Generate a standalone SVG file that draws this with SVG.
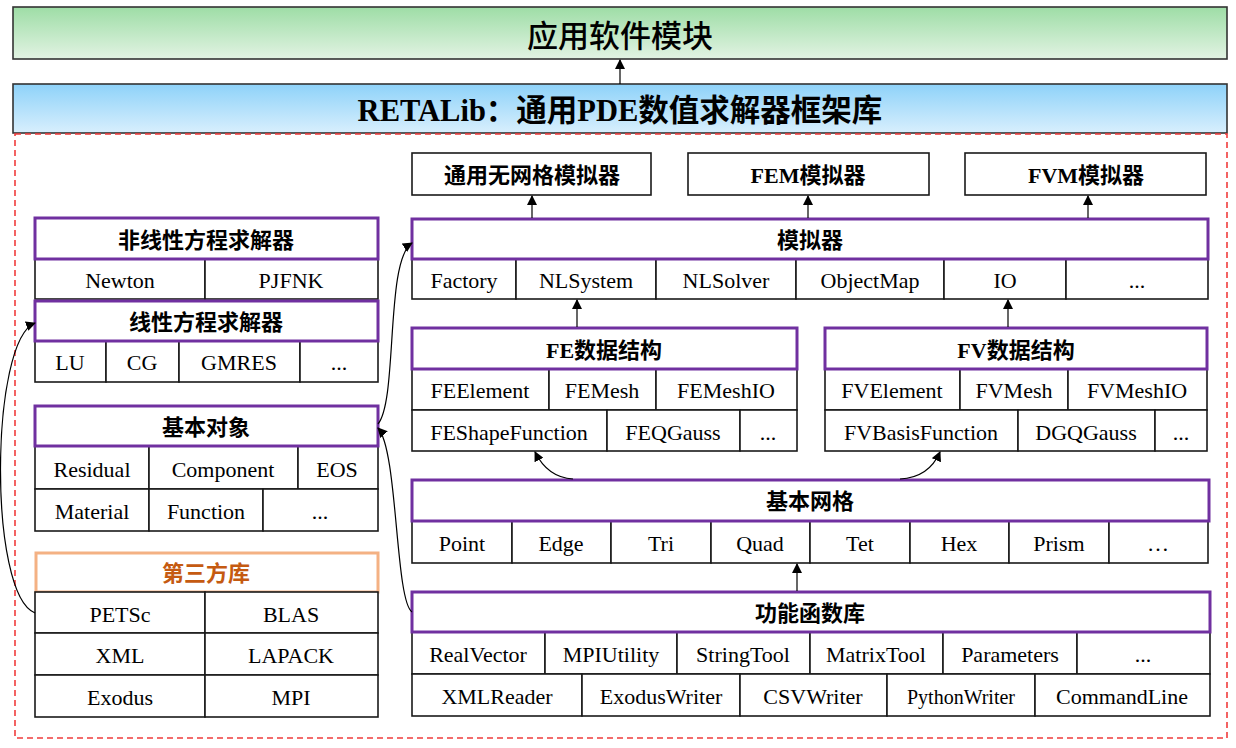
<svg xmlns="http://www.w3.org/2000/svg" width="1236" height="748" viewBox="0 0 1236 748">
<defs>
<linearGradient id="gGreen" x1="0" y1="0" x2="0" y2="1"><stop offset="0" stop-color="#9edda6"/><stop offset="1" stop-color="#e2f3e3"/></linearGradient>
<linearGradient id="gBlue" x1="0" y1="0" x2="0" y2="1"><stop offset="0" stop-color="#8ed2f9"/><stop offset="1" stop-color="#d8effd"/></linearGradient>
<marker id="ah" markerWidth="10" markerHeight="10" refX="9" refY="5" orient="auto" markerUnits="userSpaceOnUse"><path d="M0,0 L10,5 L0,10 z" fill="#000"/></marker>
<style>
.c{fill:#fff;stroke:#1a1a1a;stroke-width:1.6}
.h{fill:#fff;stroke:#7030a0;stroke-width:3}
.b{fill:#fff;stroke:#1a1a1a;stroke-width:1.6}
.t{font-family:"Liberation Serif","Times New Roman",serif;font-size:22px;fill:#000;text-anchor:middle}
.ts{font-size:20px}
.z{font-family:"Liberation Serif","Noto Sans CJK SC",serif;font-size:22px;font-weight:bold;fill:#000;text-anchor:middle}
.cn{stroke:#000;stroke-width:1.2;fill:none}
</style>
</defs>
<rect x="0" y="0" width="1236" height="748" fill="#fff"/>

<g id="app">
<rect x="13" y="7" width="1214" height="52" fill="url(#gGreen)" stroke="#333" stroke-width="1.6"/>
<text x="620" y="47" style="font-family:'Noto Sans CJK SC',sans-serif;font-size:31px;font-weight:500;text-anchor:middle;fill:#000">应用软件模块</text>
</g>
<g id="retalib">
<rect x="13" y="84" width="1214" height="49" fill="url(#gBlue)" stroke="#333" stroke-width="1.6"/>
<text x="620" y="121" style="font-family:'Liberation Serif','Noto Sans CJK SC',serif;font-size:30.5px;font-weight:bold;text-anchor:middle;fill:#000">RETALib：通用PDE数值求解器框架库</text>
</g>
<rect id="frame" x="15" y="134" width="1212" height="604" fill="none" stroke="#f03c3c" stroke-width="1.6" stroke-dasharray="6,4"/>

<g id="nonlinear">
<rect class="c" x="35" y="259" width="170" height="40"/><text class="t" x="120" y="288">Newton</text>
<rect class="c" x="205" y="259" width="173" height="40"/><text class="t" x="291" y="288">PJFNK</text>
<rect class="h" x="35" y="218" width="343" height="41"/><text class="z" x="206" y="248">非线性方程求解器</text>
</g>
<g id="linear">
<rect class="c" x="35" y="341" width="71" height="41"/><text class="t" x="70" y="370">LU</text>
<rect class="c" x="106" y="341" width="73" height="41"/><text class="t" x="142" y="370">CG</text>
<rect class="c" x="179" y="341" width="121" height="41"/><text class="t" x="239" y="370">GMRES</text>
<rect class="c" x="300" y="341" width="78" height="41"/><text class="t" x="339" y="370">...</text>
<rect class="h" x="35" y="301" width="343" height="40"/><text class="z" x="206" y="330">线性方程求解器</text>
</g>
<g id="basicobj">
<rect class="c" x="35" y="446" width="114" height="43"/><text class="t" x="92" y="477">Residual</text>
<rect class="c" x="149" y="446" width="149" height="43"/><text class="t" x="223" y="477">Component</text>
<rect class="c" x="298" y="446" width="80" height="43"/><text class="t" x="337" y="477">EOS</text>
<rect class="c" x="35" y="489" width="114" height="42"/><text class="t" x="92" y="519">Material</text>
<rect class="c" x="149" y="489" width="114" height="42"/><text class="t" x="206" y="519">Function</text>
<rect class="c" x="263" y="489" width="115" height="42"/><text class="t" x="320" y="519">...</text>
<rect class="h" x="35" y="406" width="343" height="40"/><text class="z" x="206" y="435">基本对象</text>
</g>
<g id="thirdparty">
<rect x="36" y="553" width="342" height="39" fill="#fff" stroke="#f4b183" stroke-width="3"/><text class="z" x="206" y="581" style="fill:#c55a11">第三方库</text>
<rect class="c" x="35" y="592" width="170" height="41"/><text class="t" x="120" y="622">PETSc</text>
<rect class="c" x="205" y="592" width="173" height="41"/><text class="t" x="291" y="622">BLAS</text>
<rect class="c" x="35" y="633" width="170" height="42"/><text class="t" x="120" y="663">XML</text>
<rect class="c" x="205" y="633" width="173" height="42"/><text class="t" x="291" y="663">LAPACK</text>
<rect class="c" x="35" y="675" width="170" height="42"/><text class="t" x="120" y="705">Exodus</text>
<rect class="c" x="205" y="675" width="173" height="42"/><text class="t" x="291" y="705">MPI</text>
</g>

<g id="meshless"><rect class="b" x="412" y="153" width="239" height="42"/><text class="z" x="532" y="183">通用无网格模拟器</text></g>
<g id="femsim"><rect class="b" x="688" y="153" width="241" height="42"/><text class="z" x="808" y="183">FEM模拟器</text></g>
<g id="fvmsim"><rect class="b" x="965" y="153" width="241" height="42"/><text class="z" x="1086" y="183">FVM模拟器</text></g>

<g id="simulator">
<rect class="c" x="412" y="259" width="104" height="40"/><text class="t" x="464" y="288">Factory</text>
<rect class="c" x="516" y="259" width="140" height="40"/><text class="t" x="586" y="288">NLSystem</text>
<rect class="c" x="656" y="259" width="140" height="40"/><text class="t" x="726" y="288">NLSolver</text>
<rect class="c" x="796" y="259" width="148" height="40"/><text class="t" x="870" y="288">ObjectMap</text>
<rect class="c" x="944" y="259" width="122" height="40"/><text class="t" x="1005" y="288">IO</text>
<rect class="c" x="1066" y="259" width="142" height="40"/><text class="t" x="1137" y="288">...</text>
<rect class="h" x="412" y="219" width="796" height="40"/><text class="z" x="810" y="248">模拟器</text>
</g>

<g id="fedata">
<rect class="c" x="412" y="369" width="137" height="41"/><text class="t" x="480" y="398">FEElement</text>
<rect class="c" x="549" y="369" width="107" height="41"/><text class="t" x="602" y="398">FEMesh</text>
<rect class="c" x="656" y="369" width="141" height="41"/><text class="t" x="726" y="398">FEMeshIO</text>
<rect class="c" x="412" y="410" width="195" height="41"/><text class="t" x="509" y="440">FEShapeFunction</text>
<rect class="c" x="607" y="410" width="133" height="41"/><text class="t" x="673" y="440">FEQGauss</text>
<rect class="c" x="740" y="410" width="57" height="41"/><text class="t" x="768" y="440">...</text>
<rect class="h" x="412" y="328" width="385" height="41"/><text class="z" x="604" y="358">FE数据结构</text>
</g>
<g id="fvdata">
<rect class="c" x="825" y="369" width="135" height="41"/><text class="t" x="892" y="398">FVElement</text>
<rect class="c" x="960" y="369" width="108" height="41"/><text class="t" x="1014" y="398">FVMesh</text>
<rect class="c" x="1068" y="369" width="139" height="41"/><text class="t" x="1137" y="398">FVMeshIO</text>
<rect class="c" x="825" y="410" width="193" height="41"/><text class="t" x="921" y="440">FVBasisFunction</text>
<rect class="c" x="1018" y="410" width="137" height="41"/><text class="t" x="1086" y="440">DGQGauss</text>
<rect class="c" x="1155" y="410" width="52" height="41"/><text class="t" x="1181" y="440">...</text>
<rect class="h" x="825" y="328" width="382" height="41"/><text class="z" x="1016" y="358">FV数据结构</text>
</g>

<g id="basicmesh">
<rect class="c" x="412" y="521" width="100" height="42"/><text class="t" x="462" y="551">Point</text>
<rect class="c" x="512" y="521" width="99" height="42"/><text class="t" x="561" y="551">Edge</text>
<rect class="c" x="611" y="521" width="100" height="42"/><text class="t" x="661" y="551">Tri</text>
<rect class="c" x="711" y="521" width="99" height="42"/><text class="t" x="760" y="551">Quad</text>
<rect class="c" x="810" y="521" width="100" height="42"/><text class="t" x="860" y="551">Tet</text>
<rect class="c" x="910" y="521" width="99" height="42"/><text class="t" x="959" y="551">Hex</text>
<rect class="c" x="1009" y="521" width="100" height="42"/><text class="t" x="1059" y="551">Prism</text>
<rect class="c" x="1109" y="521" width="99" height="42"/><text class="t" x="1158" y="551">…</text>
<rect class="h" x="412" y="480" width="797" height="41"/><text class="z" x="810" y="509">基本网格</text>
</g>

<g id="utility">
<rect class="c" x="412" y="632" width="133" height="42"/><text class="t" x="478" y="662">RealVector</text>
<rect class="c" x="545" y="632" width="132" height="42"/><text class="t" x="611" y="662">MPIUtility</text>
<rect class="c" x="677" y="632" width="133" height="42"/><text class="t" x="743" y="662">StringTool</text>
<rect class="c" x="810" y="632" width="133" height="42"/><text class="t" x="876" y="662">MatrixTool</text>
<rect class="c" x="943" y="632" width="134" height="42"/><text class="t" x="1010" y="662">Parameters</text>
<rect class="c" x="1077" y="632" width="133" height="42"/><text class="t" x="1143" y="662">...</text>
<rect class="c" x="412" y="674" width="170" height="42"/><text class="t" x="497" y="704">XMLReader</text>
<rect class="c" x="582" y="674" width="158" height="42"/><text class="t" x="661" y="704">ExodusWriter</text>
<rect class="c" x="740" y="674" width="147" height="42"/><text class="t" x="813" y="704">CSVWriter</text>
<rect class="c" x="887" y="674" width="148" height="42"/><text class="t ts" x="961" y="704">PythonWriter</text>
<rect class="c" x="1035" y="674" width="175" height="42"/><text class="t" x="1122" y="704">CommandLine</text>
<rect class="h" x="412" y="592" width="798" height="40"/><text class="z" x="810" y="621">功能函数库</text>
</g>

<g id="connectors">
<line class="cn" x1="620" y1="84" x2="620" y2="60" marker-end="url(#ah)"/>
<line class="cn" x1="532" y1="218" x2="532" y2="196" marker-end="url(#ah)"/>
<line class="cn" x1="808" y1="218" x2="808" y2="196" marker-end="url(#ah)"/>
<line class="cn" x1="1088" y1="218" x2="1088" y2="196" marker-end="url(#ah)"/>
<line class="cn" x1="577" y1="327" x2="577" y2="300" marker-end="url(#ah)"/>
<line class="cn" x1="1008" y1="327" x2="1008" y2="300" marker-end="url(#ah)"/>
<line class="cn" x1="797" y1="591" x2="797" y2="564" marker-end="url(#ah)"/>
<path class="cn" d="M573,479 C555,478 543,468 535,452" marker-end="url(#ah)"/>
<path class="cn" d="M900,479 C920,478 933,468 940,452" marker-end="url(#ah)"/>
<path class="cn" d="M35,613 C-12,595 -10,340 35,323" marker-end="url(#ah)"/>
<path class="cn" d="M378,424 C398,400 385,260 412,243" marker-end="url(#ah)"/>
<path class="cn" d="M412,612 C395,600 398,450 378,428" marker-end="url(#ah)"/>
</g>
</svg>
